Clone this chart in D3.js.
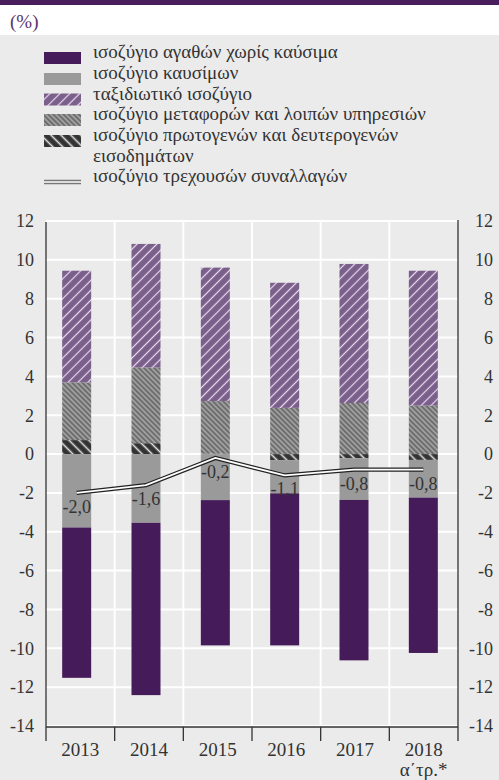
<!DOCTYPE html>
<html><head><meta charset="utf-8">
<script src="https://cdn.jsdelivr.net/npm/d3@7"></script>
<style>
html,body{margin:0;padding:0;background:#ebebeb;}
svg, svg text{font-family:"Liberation Serif","Tinos","Times New Roman","DejaVu Serif",serif;}
</style></head>
<body>
<svg id="chart" width="499" height="780"></svg>
<script>
const categories = ["2013","2014","2015","2016","2017","2018"];
const categoryLines = [["2013"],["2014"],["2015"],["2016"],["2017"],["2018","α΄τρ.*"]];
const goods     = [-7.74, -8.87, -7.48, -7.83, -8.26, -8.00];
const fuel      = [-3.78, -3.54, -2.37, -1.71, -2.14, -1.94];
const income    = [0.72, 0.56, 0.03, -0.31, -0.22, -0.30];
const transport = [2.97, 3.90, 2.70, 2.38, 2.63, 2.50];
const travel    = [5.75, 6.36, 6.87, 6.44, 7.16, 6.94];
const currentAccount = [-2.0, -1.6, -0.2, -1.1, -0.8, -0.8];
const caLabels = ["-2,0","-1,6","-0,2","-1,1","-0,8","-0,8"];
const yTicks = [-14,-12,-10,-8,-6,-4,-2,0,2,4,6,8,10,12];
const legendLabels = [
  ["ισοζύγιο αγαθών χωρίς καύσιμα"],
  ["ισοζύγιο καυσίμων"],
  ["ταξιδιωτικό ισοζύγιο"],
  ["ισοζύγιο μεταφορών και λοιπών υπηρεσιών"],
  ["ισοζύγιο πρωτογενών και δευτερογενών","εισοδημάτων"],
  ["ισοζύγιο τρεχουσών συναλλαγών"]
];

const FONT = '"Liberation Serif", Tinos, "Times New Roman", "DejaVu Serif", serif';
const svg = d3.select("#chart").attr("font-family", FONT);
const W = 499, H = 780;
svg.append("rect").attr("width",W).attr("height",H).attr("fill","#ebebeb");
svg.append("rect").attr("width",W).attr("height",35).attr("fill","#ffffff");
svg.append("rect").attr("width",W).attr("height",5).attr("fill","#4a1d5c");
svg.append("text").attr("x",10).attr("y",28).attr("font-size",19).attr("fill","#5a3570").text("(%)");

// patterns
const defs = svg.append("defs");
function hatch(id, bg, fg, size, sw, angle){
  const p = defs.append("pattern").attr("id",id).attr("patternUnits","userSpaceOnUse")
    .attr("width",size).attr("height",size).attr("patternTransform",`rotate(${angle})`);
  p.append("rect").attr("width",size).attr("height",size).attr("fill",bg);
  p.append("line").attr("x1",size/2).attr("x2",size/2).attr("y1",0).attr("y2",size)
    .attr("stroke",fg).attr("stroke-width",sw);
}
hatch("pTravel","#7a5f8a","#e8dcef",7,1.2,45);
hatch("pTransport","#6d6d6d","#dcdcdc",3.6,0.8,-45);
hatch("pIncome","#333333","#e0e0e0",7,1.6,-45);

const colors = {goods:"#451c59", fuel:"#9a9a9a", travel:"url(#pTravel)", transport:"url(#pTransport)", income:"url(#pIncome)"};

// scales
const y = d3.scaleLinear().domain([-14,12]).range([726,221]);
const xGrid = d3.scaleBand().domain(categories).range([46,458]);
const xBar = d3.scaleBand().domain(categories).range([42,458]);
const barW = 29;
const left = 46, right = 458;

// grid
const g = svg.append("g");
g.selectAll("line.h").data(yTicks).join("line")
  .attr("x1",left).attr("x2",right).attr("y1",d=>y(d)).attr("y2",d=>y(d))
  .attr("stroke","#ffffff").attr("stroke-width",2);
g.selectAll("line.v").data(categories.slice(1)).join("line")
  .attr("x1",d=>xGrid(d)).attr("x2",d=>xGrid(d)).attr("y1",y(12)).attr("y2",y(-14))
  .attr("stroke","#ffffff").attr("stroke-width",2);

// stacked bars
const rows = categories.map((c,i)=>({cat:c, goods:goods[i], fuel:fuel[i], income:income[i], transport:transport[i], travel:travel[i]}));
const keys = ["income","fuel","transport","goods","travel"];
const series = d3.stack().keys(keys).offset(d3.stackOffsetDiverging)(rows);
const bars = svg.append("g");
series.forEach(s=>{
  bars.selectAll(null).data(s).join("rect")
    .attr("x",d=>xBar(d.data.cat)+xBar.bandwidth()/2-barW/2)
    .attr("width",barW)
    .attr("y",d=>y(Math.max(d[0],d[1])))
    .attr("height",d=>Math.abs(y(d[0])-y(d[1])))
    .attr("fill",colors[s.key]);
});

// axes lines
const ax = svg.append("g").attr("stroke","#333").attr("stroke-width",1.3);
ax.append("line").attr("x1",left).attr("x2",left).attr("y1",y(12)+1).attr("y2",y(-14)+1);
ax.append("line").attr("x1",right).attr("x2",right).attr("y1",y(12)-1).attr("y2",y(-14)+1);
ax.append("line").attr("x1",left).attr("x2",right).attr("y1",y(-14)+1).attr("y2",y(-14)+1);
const tickXs = categories.map(c=>xGrid(c)).concat([right]);
ax.selectAll(null).data(tickXs).join("line")
  .attr("x1",d=>d).attr("x2",d=>d).attr("y1",y(-14)+1).attr("y2",y(-14)+15);

// y labels
const yl = svg.append("g").attr("font-size",18).attr("fill","#333");
yl.selectAll(null).data(yTicks).join("text").attr("x",34).attr("y",d=>y(d)).attr("dy","0.35em")
  .attr("text-anchor","end").text(d=>d);
yl.selectAll(null).data(yTicks).join("text").attr("x",493).attr("y",d=>y(d)).attr("dy","0.35em")
  .attr("text-anchor","end").text(d=>d);

// x labels
const xl = svg.append("g").attr("font-size",19).attr("fill","#333").attr("text-anchor","middle");
categories.forEach((c,i)=>{
  const t = xl.append("text").attr("x",xGrid(c)+xGrid.bandwidth()/2).attr("y",756);
  categoryLines[i].forEach((ln,j)=>t.append("tspan").attr("x",xGrid(c)+xGrid.bandwidth()/2).attr("dy",j?20:0).text(ln));
});

// current account line
const line = d3.line().x((d,i)=>xBar(categories[i])+xBar.bandwidth()/2).y(d=>y(d));
svg.append("path").datum(currentAccount).attr("d",line).attr("fill","none").attr("stroke","#222").attr("stroke-width",4.2);
svg.append("path").datum(currentAccount).attr("d",line).attr("fill","none").attr("stroke","#ffffff").attr("stroke-width",1.8);

// labels
svg.append("g").attr("font-size",18).attr("fill","#333").attr("text-anchor","middle")
  .selectAll(null).data(currentAccount).join("text")
  .attr("x",(d,i)=>xBar(categories[i])+xBar.bandwidth()/2)
  .attr("y",d=>y(d)+20).text((d,i)=>caLabels[i]);

// legend
const lg = svg.append("g");
const rowY = [58, 79, 99.5, 120, 141, 182];
const fills = [colors.goods, colors.fuel, colors.travel, colors.transport, colors.income];
legendLabels.forEach((lines,i)=>{
  const yy = rowY[i];
  if(i<5){
    lg.append("rect").attr("x",44).attr("y",yy-6).attr("width",37).attr("height",12).attr("fill",fills[i]);
  } else {
    lg.append("line").attr("x1",44).attr("x2",81).attr("y1",yy).attr("y2",yy).attr("stroke","#777").attr("stroke-width",4.5);
    lg.append("line").attr("x1",44).attr("x2",81).attr("y1",yy).attr("y2",yy).attr("stroke","#fff").attr("stroke-width",1.6);
  }
  const t = lg.append("text").attr("x",93).attr("y",yy).attr("dy","0.32em").attr("font-size",19).attr("fill","#333");
  lines.forEach((ln,j)=>t.append("tspan").attr("x",93).attr("dy",j?"21":"0").text(ln));
});
</script>
</body></html>
